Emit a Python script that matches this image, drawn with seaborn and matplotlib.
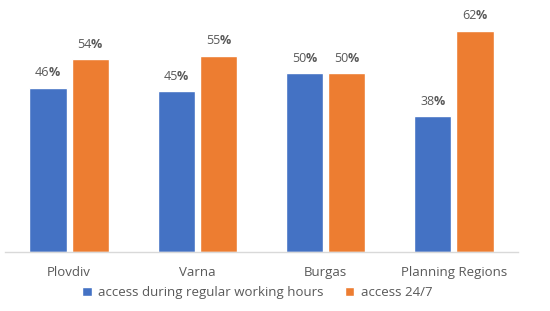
import matplotlib
matplotlib.use("Agg")
import matplotlib.pyplot as plt
import pandas as pd
import seaborn as sns

categories = ["Plovdiv", "Varna", "Burgas", "Planning Regions"]
series_names = ["access during regular working hours", "access 24/7"]
regular_hours = [46, 45, 50, 38]
access_247 = [54, 55, 50, 62]

COLORS = ["#4472C4", "#ED7D31"]
TEXT = "#595959"

df = pd.DataFrame({
    "region": categories * 2,
    "series": [series_names[0]] * 4 + [series_names[1]] * 4,
    "value": regular_hours + access_247,
})

sns.set_theme(style="white")
plt.rcParams["font.family"] = ["Open Sans", "DejaVu Sans"]

fig = plt.figure(figsize=(5.5, 3.11), dpi=100)
ax = fig.add_axes([5 / 550, 59 / 311, 513 / 550, 250 / 311])

sns.barplot(data=df, x="region", y="value", hue="series", order=categories,
            hue_order=series_names, palette=COLORS, width=0.66, gap=0.12,
            saturation=1, ax=ax, legend=True)

# value labels: number in regular weight, percent sign bolder (as in the source)
for container in ax.containers:
    for bar in container:
        h = bar.get_height()
        xc = bar.get_x() + bar.get_width() / 2
        ax.annotate(f"{h:.0f}", (xc, h), xytext=(1.2, 6), textcoords="offset points",
                    ha="right", va="bottom", fontsize=9, color=TEXT)
        ax.annotate("%", (xc, h), xytext=(0.5, 6), textcoords="offset points",
                    ha="left", va="bottom", fontsize=9, color=TEXT, fontweight="bold")

ax.set_ylim(0, 70)
ax.set_xlim(-0.5, 3.5)
ax.set_xlabel("")
ax.set_ylabel("")
ax.set_yticks([])
ax.tick_params(axis="x", length=0, pad=10, labelsize=9.5, colors=TEXT)
for side in ["top", "right", "left"]:
    ax.spines[side].set_visible(False)
ax.spines["bottom"].set_color("#D9D9D9")
ax.spines["bottom"].set_linewidth(1)

handles, labels = ax.get_legend_handles_labels()
ax.get_legend().remove()
fig.legend(handles, labels, loc="center", bbox_to_anchor=(0.468, 0.058), ncol=2,
           frameon=False, fontsize=9.5, handlelength=0.7, handleheight=0.7,
           columnspacing=1.6, handletextpad=0.5, labelcolor=TEXT)

fig.savefig("out.png", dpi=100)
